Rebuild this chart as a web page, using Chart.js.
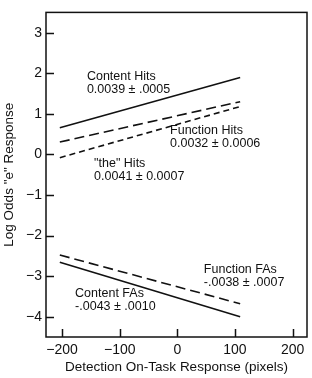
<!DOCTYPE html>
<html>
<head>
<meta charset="utf-8">
<script src="https://cdn.jsdelivr.net/npm/chart.js@4/dist/chart.umd.min.js"></script>
<style>
  html, body { margin: 0; padding: 0; background: #fff; }
  #wrap { width: 312px; height: 378px; }
</style>
</head>
<body>
<div id="wrap"><canvas id="chart" width="312" height="378"></canvas></div>
<script>
// x extent of every fitted line (pixels)
const xEnds = [-204, 109];

// log odds at the two ends
const contentHits = [0.655, 1.896];
const functionHits = [0.305, 1.30];
const theHits = [-0.08, 1.18];
const functionFAs = [-2.48, -3.68];
const contentFAs = [-2.66, -4.00];

const xTicks = [-200, -100, 0, 100, 200];
const yTicks = [-4, -3, -2, -1, 0, 1, 2, 3];

const noteNames = ['Content Hits', 'Function Hits', '"the" Hits', 'Function FAs', 'Content FAs'];
const noteSlopes = ['0.0039 \u00b1 .0005', '0.0032 \u00b1 0.0006', '0.0041 \u00b1 0.0007', '-.0038 \u00b1 .0007', '-.0043 \u00b1 .0010'];
// where each note sits, in data units (x left edge, y of first line)
const noteAt = [[-157, 1.92], [-12.7, 0.60], [-144.5, -0.22], [46, -2.83], [-177.5, -3.43]];

const FONT = '"Liberation Sans", Arial, Helvetica, sans-serif';
const INK = '#111';

function pts(ys) {
    return xEnds.map((x, i) => ({ x, y: ys[i] }));
}

function lineSet(label, ys, dash) {
    return {
        label,
        data: pts(ys),
        showLine: true,
        borderColor: INK,
        borderWidth: 1.6,
        borderDash: dash,
        pointRadius: 0,
        fill: false
    };
}

const frameAndTicks = {
    id: 'frameAndTicks',
    afterDraw(chart) {
        const { ctx, chartArea: a, scales } = chart;
        ctx.save();
        ctx.strokeStyle = INK;
        ctx.lineWidth = 1.5;
        ctx.beginPath();
        xTicks.forEach(v => {
            const px = Math.round(scales.x.getPixelForValue(v)) + 0.5;
            ctx.moveTo(px, a.bottom);
            ctx.lineTo(px, a.bottom - 8);
        });
        yTicks.forEach(v => {
            const py = Math.round(scales.y.getPixelForValue(v)) + 0.5;
            ctx.moveTo(a.left, py);
            ctx.lineTo(a.left + 8, py);
        });
        ctx.stroke();
        ctx.strokeRect(a.left, a.top, a.right - a.left, a.bottom - a.top);

        // notes
        ctx.fillStyle = INK;
        ctx.font = '12.5px ' + FONT;
        ctx.textAlign = 'left';
        ctx.textBaseline = 'middle';
        noteNames.forEach((name, i) => {
            const px = scales.x.getPixelForValue(noteAt[i][0]);
            const py = scales.y.getPixelForValue(noteAt[i][1]);
            ctx.fillText(name, px, py);
            ctx.fillText(noteSlopes[i], px, py + 13);
        });
        ctx.restore();
    }
};

new Chart(document.getElementById('chart'), {
    type: 'scatter',
    data: {
        datasets: [
            lineSet('Content Hits', contentHits, []),
            lineSet('Function Hits', functionHits, [10, 5]),
            lineSet('"the" Hits', theHits, [6, 4]),
            lineSet('Function FAs', functionFAs, [10, 5]),
            lineSet('Content FAs', contentFAs, [])
        ]
    },
    options: {
        responsive: false,
        animation: false,
        devicePixelRatio: 1,
        layout: { padding: { top: 4, right: 5, left: 0, bottom: 0 } },
        plugins: { legend: { display: false }, tooltip: { enabled: false } },
        scales: {
            x: {
                type: 'linear',
                min: -228,
                max: 225,
                afterBuildTicks: s => { s.ticks = xTicks.map(value => ({ value })); },
                afterFit: s => { s.height = 41; },
                grid: { display: false, drawTicks: false },
                border: { display: false },
                ticks: {
                    padding: 5,
                    color: INK,
                    font: { family: FONT, size: 14 },
                    callback: v => (v < 0 ? '\u2212' + Math.abs(v) : '' + v)
                },
                title: {
                    display: true,
                    text: 'Detection On-Task Response (pixels)',
                    color: INK,
                    font: { family: FONT, size: 13.5 },
                    padding: { top: 0, bottom: 3 }
                }
            },
            y: {
                type: 'linear',
                min: -4.5,
                max: 3.5,
                afterBuildTicks: s => { s.ticks = yTicks.map(value => ({ value })); },
                afterFit: s => { s.width = 46; },
                grid: { display: false, drawTicks: false },
                border: { display: false },
                ticks: {
                    padding: 4,
                    color: INK,
                    font: { family: FONT, size: 14 },
                    callback: v => (v < 0 ? '\u2212' + Math.abs(v) : '' + v)
                },
                title: {
                    display: true,
                    text: 'Log Odds "e" Response',
                    color: INK,
                    font: { family: FONT, size: 13.5 },
                    padding: { top: 1, bottom: 0 }
                }
            }
        }
    },
    plugins: [frameAndTicks]
});
</script>
</body>
</html>
